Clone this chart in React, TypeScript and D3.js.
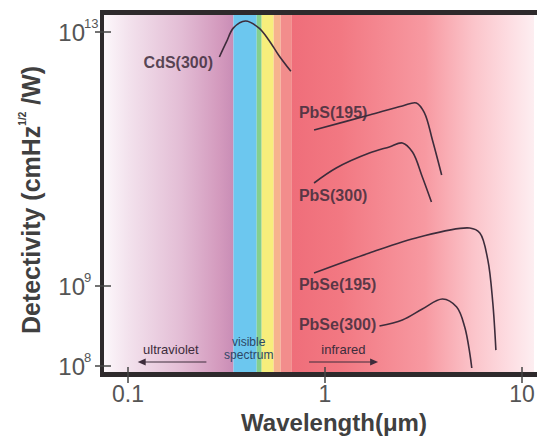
import React from 'react';
import * as d3 from 'd3';

// curves: [wavelength um, detectivity]
const cds300 = [
  [0.291, 4.04e12], [0.316, 6.97e12], [0.343, 1.16e13], [0.395, 1.49e13],
  [0.461, 1.16e13], [0.518, 7.5e12], [0.582, 4.3e12], [0.671, 2.4e12],
];
const pbs195 = [
  [0.88, 2.86e11], [1.68, 4.93e11], [2.47, 6.84e11], [2.91, 7.62e11],
  [3.2, 5.3e11], [3.51, 1.99e11], [3.91, 5.6e10],
];
const pbs300 = [
  [0.88, 4.19e10], [1.14, 7.21e10], [1.68, 1.24e11], [2.12, 1.55e11],
  [2.47, 1.79e11], [2.78, 1.29e11], [3.12, 5.21e10], [3.47, 2.1e10],
];
const pbse195 = [
  [0.88, 1.6e9], [1.68, 3.31e9], [3.02, 5.92e9], [5.43, 8.18e9],
  [6.11, 6.84e9], [6.71, 2.56e9], [7.11, 6.13e8], [7.37, 1.58e8],
];
const pbse300 = [
  [1.89, 3.16e8], [2.47, 3.76e8], [3.12, 5.16e8], [3.95, 6.88e8],
  [4.66, 5.46e8], [5.12, 3.07e8], [5.43, 1.45e8], [5.56, 9.44e7],
];

const curves = [cds300, pbs195, pbs300, pbse195, pbse300];
const curveLabels = ['CdS(300)', 'PbS(195)', 'PbS(300)', 'PbSe(195)', 'PbSe(300)'];
// label anchors [wavelength, detectivity, anchor]
const labelAnchors = [
  [0.27, 2.7e12, 'end'],
  [0.737, 4.43e11, 'start'],
  [0.737, 2.18e10, 'start'],
  [0.737, 8.9e8, 'start'],
  [0.737, 2.8e8, 'start'],
];

const xTicks = [0.1, 1, 10];
const xTickLabels = ['0.1', '1', '10'];
const yTicks = [1e13, 1e9, 1e8];
const yTickExps = ['13', '9', '8'];

// spectrum bands (wavelength edges)
const bandEdges = [0.343, 0.45, 0.477, 0.549, 0.596, 0.679];
const bandColors = ['#6cc7ef', '#84cf8e', '#f7ee7c', '#f6b38e', '#f28d8c'];

export default function App() {
  const W = 537;
  const H = 439;
  const left = 102;
  const right = 534;
  const top = 13;
  const bottom = 374;
  const irStart = bandEdges[bandEdges.length - 1];

  const x = d3.scaleLog().domain([0.1, 10]).range([128, 522]);
  const y = d3.scaleLog().domain([1e8, 1e9, 1e13]).range([366, 286, 32]);

  const line = d3.line<number[]>()
    .x((d) => x(d[0]))
    .y((d) => y(d[1]))
    .curve(d3.curveCatmullRom.alpha(0.5));

  const font = 'Arial, "Liberation Sans", sans-serif';
  const ink = '#3d2c3b';

  return (
    <svg width={W} height={H} style={{ position: 'absolute', left: 0, top: 0, background: '#fff' }}>
      <defs>
        <linearGradient id="uv" gradientUnits="userSpaceOnUse" x1={left} x2={x(bandEdges[0])} y1={0} y2={0}>
          <stop offset="0" stopColor="#fdf9fc" />
          <stop offset="0.2" stopColor="#f3e2ed" />
          <stop offset="0.6" stopColor="#e3bdd5" />
          <stop offset="0.9" stopColor="#d399bd" />
          <stop offset="1" stopColor="#c98db6" />
        </linearGradient>
        <linearGradient id="ir" gradientUnits="userSpaceOnUse" x1={x(irStart)} x2={right} y1={0} y2={0}>
          <stop offset="0" stopColor="#ef6e7a" />
          <stop offset="0.2" stopColor="#f27882" />
          <stop offset="0.55" stopColor="#f799a1" />
          <stop offset="0.75" stopColor="#fbc4ca" />
          <stop offset="0.9" stopColor="#fddde2" />
          <stop offset="1" stopColor="#fdeef1" />
        </linearGradient>
      </defs>

      {/* background spectrum */}
      <rect x={left} y={top} width={x(bandEdges[0]) - left} height={bottom - top} fill="url(#uv)" />
      {bandColors.map((c, i) => (
        <rect key={i} x={x(bandEdges[i])} y={top} width={x(bandEdges[i + 1]) - x(bandEdges[i])}
          height={bottom - top} fill={c} />
      ))}
      <rect x={x(irStart)} y={top} width={right - x(irStart)} height={bottom - top} fill="url(#ir)" />

      {/* curves */}
      {curves.map((c, i) => (
        <path key={i} d={line(c) || ''} fill="none" stroke={ink} strokeWidth={1.6} />
      ))}
      {curveLabels.map((t, i) => (
        <text key={t} x={x(labelAnchors[i][0] as number)} y={y(labelAnchors[i][1] as number)}
          textAnchor={labelAnchors[i][2] as string} fontFamily={font} fontWeight="bold" fontSize={16}
          fill={ink} fillOpacity={0.85}>{t}</text>
      ))}

      {/* spectrum annotations */}
      <text x={x(0.165)} y={354} textAnchor="middle" fontFamily={font} fontSize={13} fill={ink}>ultraviolet</text>
      <line x1={x(0.25)} x2={x(0.12)} y1={362} y2={362} stroke={ink} strokeWidth={1} />
      <path d={`M${x(0.112)},362 l8,-3.5 l0,7 z`} fill={ink} />
      <text x={x(0.41)} y={346} textAnchor="middle" fontFamily={font} fontSize={12} fill="#2e4766">visible</text>
      <text x={x(0.41)} y={359} textAnchor="middle" fontFamily={font} fontSize={12} fill="#2e4766">spectrum</text>
      <text x={x(1.24)} y={354} textAnchor="middle" fontFamily={font} fontSize={13} fill={ink}>infrared</text>
      <line x1={x(0.83)} x2={x(1.75)} y1={362} y2={362} stroke={ink} strokeWidth={1} />
      <path d={`M${x(1.86)},362 l-8,-3.5 l0,7 z`} fill={ink} />

      {/* frame */}
      <rect x={left - 2} y={top - 3} width={W - left + 2} height={5} fill="#2e2a2c" />
      <rect x={left - 2} y={bottom - 2} width={W - left + 2} height={5} fill="#2e2a2c" />
      <rect x={left - 2} y={top - 3} width={4} height={bottom - top + 6} fill="#2e2a2c" />

      {/* x ticks */}
      {xTicks.map((t, i) => (
        <g key={t}>
          <line x1={x(t)} x2={x(t)} y1={367} y2={383} stroke="#444" strokeWidth={1.5} />
          <text x={x(t)} y={402} textAnchor="middle" fontFamily={font} fontSize={23} fill="#555">{xTickLabels[i]}</text>
        </g>
      ))}
      {/* y ticks */}
      {yTicks.map((t, i) => (
        <g key={t}>
          <line x1={95} x2={111} y1={y(t)} y2={y(t)} stroke="#444" strokeWidth={1.5} />
          <text x={85} y={y(t) + 9} textAnchor="end" fontFamily={font} fontSize={24} fill="#555">10</text>
          <text x={84} y={y(t) - 4} textAnchor="start" fontFamily={font} fontSize={13} fill="#555">{yTickExps[i]}</text>
        </g>
      ))}

      {/* axis titles */}
      <text x={334} y={431} textAnchor="middle" fontFamily={font} fontWeight="bold" fontSize={24} fill="#404040">Wavelength(μm)</text>
      <text transform="translate(40,200) rotate(-90)" textAnchor="middle" fontFamily={font} fontWeight="bold" fontSize={25} fill="#404040">
        Detectivity (cmHz<tspan fontSize={10} dy={-14}>1/2</tspan><tspan dy={14}> /W)</tspan>
      </text>
    </svg>
  );
}
